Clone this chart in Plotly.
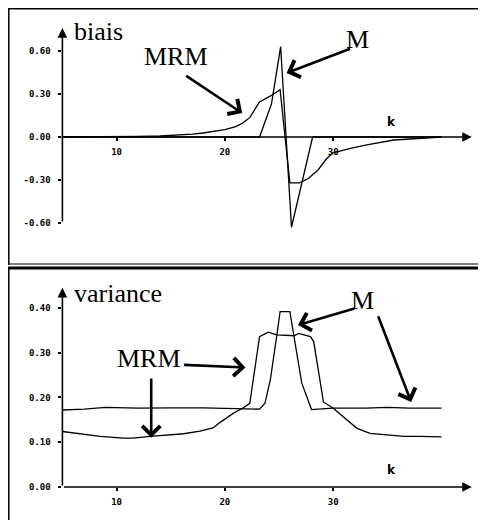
import plotly.graph_objects as go

# ---------------- data ----------------
# top panel : bias
bias_M_k = [5, 23.2, 24.3, 25.15, 26.15, 28.1, 40]
bias_M_v = [0.0, 0.0, 0.23, 0.63, -0.63, 0.0, 0.0]

bias_MRM_k = [5, 8, 10, 12, 14, 15, 16, 17, 18, 19, 20, 21, 21.6, 22.3, 23.2, 24.3, 25.1,
              26.0, 26.9, 27.7, 28.6, 29.4, 30.0, 31.6, 33.1, 35.6, 38, 40]
bias_MRM_v = [0.0, 0.0, 0.002, 0.004, 0.007, 0.01, 0.014, 0.02, 0.028, 0.038, 0.052, 0.072,
              0.095, 0.135, 0.245, 0.29, 0.33,
              -0.32, -0.32, -0.29, -0.23, -0.15, -0.11, -0.08, -0.055, -0.021, -0.008, 0.0]

# bottom panel : variance
var_M_k = [5, 7, 9, 12, 15, 18, 21, 23.2, 23.7, 24.2, 24.8, 25.1, 26.0, 26.4, 27.1, 28.0,
           30, 33, 35, 37, 40]
var_M_v = [0.172, 0.174, 0.178, 0.176, 0.177, 0.177, 0.175, 0.174, 0.187, 0.24, 0.34,
           0.392, 0.392, 0.336, 0.232, 0.173, 0.176, 0.176, 0.178, 0.176, 0.176]

var_MRM_k = [5, 6.9, 8.5, 10.6, 11.5, 13.1, 15.2, 16.2, 17.7, 18.9, 19.6, 20.8, 21.7, 22.3,
             23.2, 24.0, 24.8, 26.4, 26.8, 27.9, 28.2, 29.1, 30.0, 31.0, 32.2, 33.4, 35.0,
             36.5, 38.0, 40.0]
var_MRM_v = [0.124, 0.118, 0.113, 0.109, 0.109, 0.113, 0.116, 0.119, 0.125, 0.132, 0.145,
             0.165, 0.177, 0.187, 0.336, 0.346, 0.34, 0.338, 0.343, 0.336, 0.325, 0.19,
             0.176, 0.155, 0.131, 0.12, 0.117, 0.113, 0.113, 0.112]

x_ticks = [10, 20, 30]
bias_ticks = [0.6, 0.3, 0.0, -0.3, -0.6]
bias_tick_text = ["0.60", "0.30", "0.00", "-0.30", "-0.60"]
var_ticks = [0.4, 0.3, 0.2, 0.1, 0.0]
var_tick_text = ["0.40", "0.30", "0.20", "0.10", "0.00"]

# ---------------- figure ----------------
OFF = 8                      # page body margin
W, H = 486 - OFF, 520 - OFF  # figure size
fig = go.Figure()
line = dict(color="black", width=1.3)
fig.add_trace(go.Scatter(x=bias_M_k, y=bias_M_v, mode="lines", line=line, xaxis="x", yaxis="y"))
fig.add_trace(go.Scatter(x=bias_MRM_k, y=bias_MRM_v, mode="lines", line=line, xaxis="x", yaxis="y"))
fig.add_trace(go.Scatter(x=var_M_k, y=var_M_v, mode="lines", line=line, xaxis="x2", yaxis="y2"))
fig.add_trace(go.Scatter(x=var_MRM_k, y=var_MRM_v, mode="lines", line=line, xaxis="x2", yaxis="y2"))

def px(p):
    return (p - OFF) / W

def py(p):
    return 1 - (p - OFF) / H

xdom = [px(62.4), px(474)]
tickfont = dict(family="DejaVu Sans Mono", size=9, color="black", weight="bold")
common_x = dict(range=[5, 43], domain=xdom, showgrid=False, zeroline=False, showline=False,
                tickvals=x_ticks, ticktext=[str(v) for v in x_ticks], ticks="outside",
                ticklen=3, tickcolor="black", tickwidth=1.5, tickfont=tickfont, anchor="free",
                ticklabelstandoff=3)
common_y = dict(showgrid=False, zeroline=False, showline=False, ticks="outside", ticklen=3,
                tickcolor="black", tickwidth=1.5, tickfont=tickfont, ticklabelstandoff=6)

fig.update_layout(
    width=W, height=H, autosize=False, showlegend=False,
    margin=dict(l=0, r=0, t=0, b=0),
    paper_bgcolor="white", plot_bgcolor="white",
    xaxis=dict(**common_x, position=py(137)),
    yaxis=dict(**common_y, range=[-0.7886, 0.8165], domain=[py(250), py(20)],
               tickvals=bias_ticks, ticktext=bias_tick_text, anchor="x"),
    xaxis2=dict(**common_x, position=py(487)),
    yaxis2=dict(**common_y, range=[-0.0626, 0.4804], domain=[py(515), py(272)],
                tickvals=var_ticks, ticktext=var_tick_text, anchor="x2"),
)

ann = []
# axis arrows
for xr, yr, ytop, ybot in [("x", "y", 0.76, -0.6), ("x2", "y2", 0.445, 0.0)]:
    ann.append(dict(x=42.8, y=0, ax=5, ay=0, xref=xr, yref=yr, axref=xr, ayref=yr, text="",
                    showarrow=True, arrowhead=2, arrowsize=1.2, arrowwidth=1.6, arrowcolor="black"))
    ann.append(dict(x=5, y=ytop, ax=5, ay=ybot, xref=xr, yref=yr, axref=xr, ayref=yr, text="",
                    showarrow=True, arrowhead=2, arrowsize=1.2, arrowwidth=1.6, arrowcolor="black"))

serif = dict(family="Liberation Serif", size=26, color="black")
kfont = dict(family="DejaVu Sans", size=12, color="black", weight="bold")
# titles
ann.append(dict(x=5.9, y=0.735, xref="x", yref="y", text="biais", showarrow=False, font=serif,
                xanchor="left", yanchor="middle"))
ann.append(dict(x=5.9, y=0.432, xref="x2", yref="y2", text="variance", showarrow=False, font=serif,
                xanchor="left", yanchor="middle"))
ann.append(dict(x=35.4, y=0.105, xref="x", yref="y", text="k", showarrow=False, font=kfont))
ann.append(dict(x=35.4, y=0.038, xref="x2", yref="y2", text="k", showarrow=False, font=kfont))
# labels
ann.append(dict(x=15.5, y=0.56, xref="x", yref="y", text="MRM", showarrow=False, font=serif))
ann.append(dict(x=32.2, y=0.68, xref="x", yref="y", text="M", showarrow=False, font=serif))
ann.append(dict(x=13.0, y=0.287, xref="x2", yref="y2", text="MRM", showarrow=False, font=serif))
ann.append(dict(x=32.7, y=0.416, xref="x2", yref="y2", text="M", showarrow=False, font=serif))

# pointer arrows (tail -> head)
pointers = [
    ("x", "y", 16.3, 0.433, 21.6, 0.167),
    ("x", "y", 31.7, 0.62, 25.7, 0.447),
    ("x2", "y2", 16.1, 0.273, 21.9, 0.267),
    ("x2", "y2", 13.2, 0.246, 13.2, 0.11),
    ("x2", "y2", 32.1, 0.40, 26.75, 0.362),
    ("x2", "y2", 34.1, 0.385, 37.2, 0.19),
]
for xr, yr, tx, ty, hx, hy in pointers:
    ann.append(dict(x=hx, y=hy, ax=tx, ay=ty, xref=xr, yref=yr, axref=xr, ayref=yr, text="",
                    showarrow=True, arrowhead=4, arrowsize=1.35, arrowwidth=2.6, arrowcolor="black"))
fig.update_layout(annotations=ann)

# frame
def hline(x0, x1, y, w):
    return dict(type="line", xref="paper", yref="paper", x0=px(x0), x1=px(x1), y0=py(y), y1=py(y),
                line=dict(color="black", width=w))
def vline(x, y0, y1, w):
    return dict(type="line", xref="paper", yref="paper", x0=px(x), x1=px(x), y0=py(y0), y1=py(y1),
                line=dict(color="black", width=w))
fig.update_layout(shapes=[
    hline(8, 486, 8.8, 1.5),
    vline(8.8, 8, 265, 1.5),
    hline(8, 486, 264, 1),
    hline(8, 486, 268, 3),
    vline(8.8, 268, 520, 1.5),
])

fig.write_html("out.html")
